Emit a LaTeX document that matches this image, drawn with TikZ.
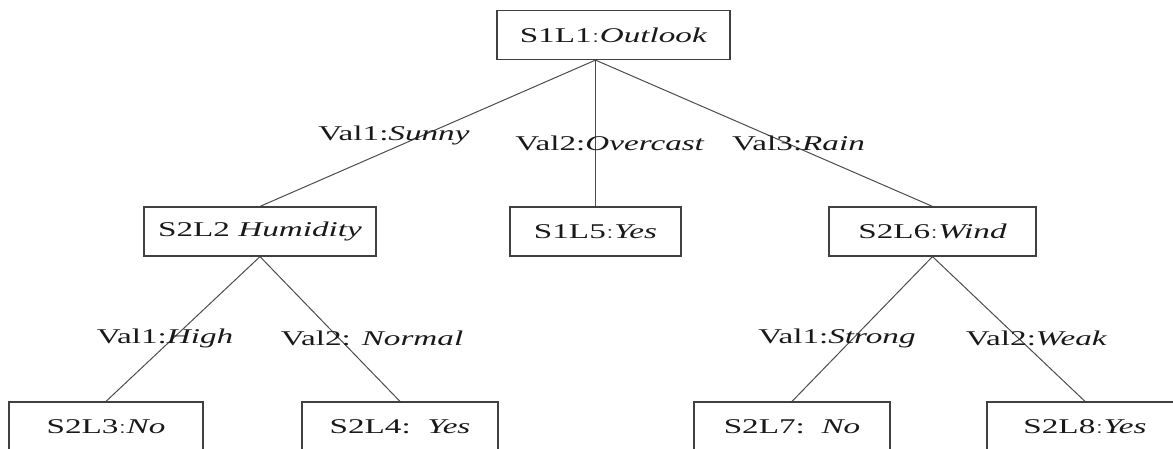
\documentclass[tikz,border=0pt]{standalone}
\usepackage{fontspec}
\setmainfont{Liberation Serif}
\usepackage{graphicx}

\newcommand{\wide}[1]{\scalebox{1.58}[1]{#1}}

\begin{document}
\begin{tikzpicture}[
        x=1pt, y=-1pt,
        box/.style={draw=black!75, line width=1.2pt, minimum height=49pt, inner sep=0pt,
            text=black!90, font=\fontsize{21}{25}\selectfont},
        val/.style={inner sep=0pt, text=black!90, font=\fontsize{21}{25}\selectfont},
        branch/.style={draw=black!70, line width=1pt}]

    \useasboundingbox (0,0) rectangle (1173,448);

    % nodes
    \node[box, minimum width=233pt] (s1l1) at (613.5,35) {\wide{S1L1$:$\textit{Outlook}}};
    \node[box, minimum width=232pt] (s2l2) at (260,231.5) {\wide{S2L2 \textit{Humidity}}};
    \node[box, minimum width=171pt] (s1l5) at (595.5,231.5) {\wide{S1L5$:$\textit{Yes}}};
    \node[box, minimum width=207pt] (s2l6) at (932.5,231.5) {\wide{S2L6$:$\textit{Wind}}};
    \node[box, minimum width=194pt] (s2l3) at (106,426.5) {\wide{S2L3$:$\textit{No}}};
    \node[box, minimum width=196pt] (s2l4) at (400,426.5) {\wide{S2L4:\ \ \textit{Yes}}};
    \node[box, minimum width=196pt] (s2l7) at (792,426.5) {\wide{S2L7:\ \ \textit{No}}};
    \node[box, minimum width=196pt] (s2l8) at (1085,426.5) {\wide{S2L8$:$\textit{Yes}}};

    % branches
    \draw[branch] (s1l1.south -| s1l5.north) -- (s2l2.north);
    \draw[branch] (s1l1.south -| s1l5.north) -- (s1l5.north);
    \draw[branch] (s1l1.south -| s1l5.north) -- (s2l6.north);
    \draw[branch] (s2l2.south) -- (s2l3.north);
    \draw[branch] (s2l2.south) -- (s2l4.north);
    \draw[branch] (s2l6.south) -- (s2l7.north);
    \draw[branch] (s2l6.south) -- (s2l8.north);

    % values
    \node[val] (sunny) at (394,135) {\wide{Val1:\textit{Sunny}}};
    \node[val] (overcast) at (610,143) {\wide{Val2:\textit{Overcast}}};
    \node[val] (rain) at (798.5,143) {\wide{Val3:\textit{Rain}}};
    \node[val] (high) at (165,338) {\wide{Val1:\textit{High}}};
    \node[val] (normal) at (372,338) {\wide{Val2: \textit{Normal}}};
    \node[val] (strong) at (837,338) {\wide{Val1:\textit{Strong}}};
    \node[val] (weak) at (1036.5,338) {\wide{Val2:\textit{Weak}}};
\end{tikzpicture}
\end{document}
